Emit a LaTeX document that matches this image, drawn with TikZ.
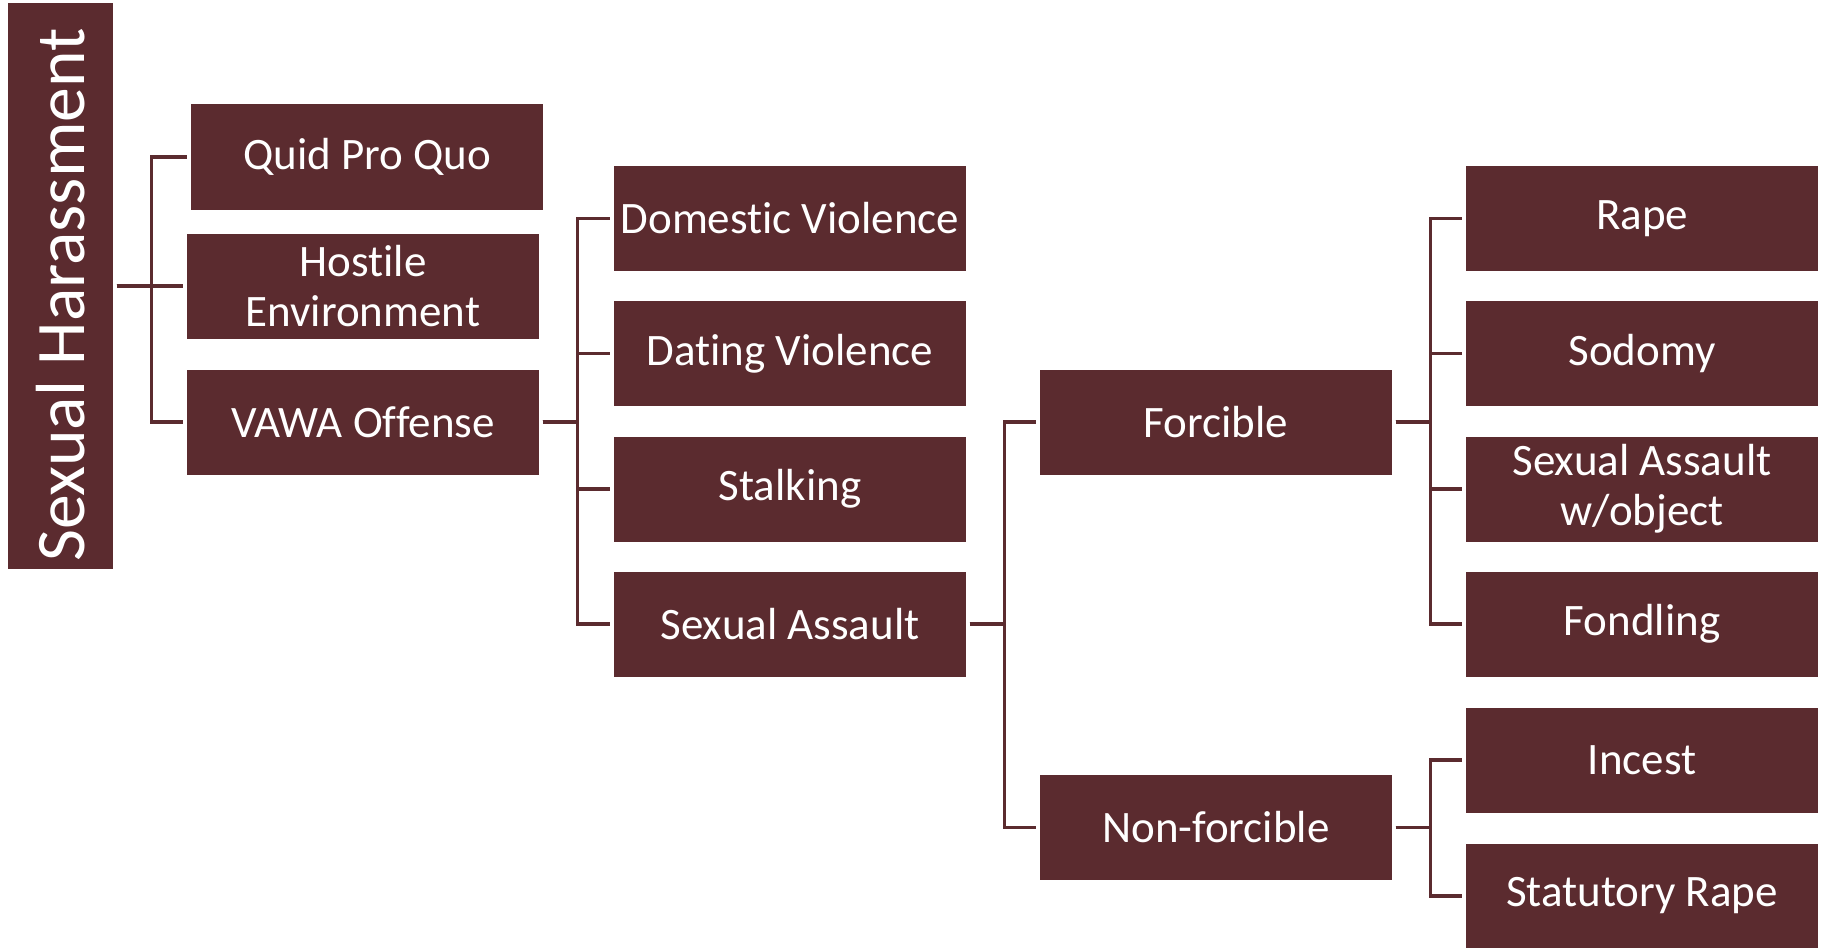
\documentclass[tikz,border=0pt]{standalone}
\usepackage{fontspec}
\setmainfont{Carlito}[Ligatures=NoCommon]
\definecolor{wine}{RGB}{91,43,47}

\tikzset{
	catbox/.style={fill=wine, text=white, minimum width=3.52cm, minimum height=1.05cm,
		inner sep=0pt, align=center, font=\fontsize{12.8}{14.2}\selectfont},
	branch/.style={draw=wine, line width=0.9pt, shorten <=0.03cm, shorten >=0.03cm,
		to path={-- ++(0.375,0) |- (\tikztotarget)}}
}

\begin{document}
\begin{tikzpicture}
	
	% Fix the page
	\useasboundingbox (0,0) rectangle (18.22,-9.47);
	
	% Define the root
	\node[catbox, minimum width=1.05cm, minimum height=5.66cm, font=\fontsize{19.8}{22}\selectfont]
		(harass) at (0.605,-2.86) {\rotatebox{90}{Sexual Harassment\hspace*{0.18cm}}};
	
	% First level
	\node[catbox] (quid) at (3.67,-1.57) {Quid Pro Quo};
	\node[catbox] (hostile) at (3.63,-2.86) {Hostile\\Environment};
	\node[catbox] (vawa) at (3.63,-4.22) {VAWA Offense};
	
	% VAWA offenses
	\node[catbox] (domestic) at (7.90,-2.185) {Domestic Violence};
	\node[catbox] (dating) at (7.90,-3.535) {Dating Violence};
	\node[catbox] (stalking) at (7.90,-4.89) {Stalking};
	\node[catbox] (assault) at (7.90,-6.24) {Sexual Assault};
	
	% Kinds of assault
	\node[catbox] (forcible) at (12.16,-4.22) {Forcible};
	\node[catbox] (nonforcible) at (12.16,-8.275) {Non-forcible};
	
	% Leaves
	\node[catbox] (rape) at (16.42,-2.185) {Rape};
	\node[catbox] (sodomy) at (16.42,-3.535) {Sodomy};
	\node[catbox] (object) at (16.42,-4.89) {Sexual Assault\\w/object};
	\node[catbox] (fondling) at (16.42,-6.24) {Fondling};
	\node[catbox] (incest) at (16.42,-7.60) {Incest};
	\node[catbox] (statutory) at (16.42,-8.96) {Statutory Rape};
	
	% Draw the connectors
	\draw[branch] (harass.east) to (quid.west);
	\draw[branch] (harass.east) to (hostile.west);
	\draw[branch] (harass.east) to (vawa.west);
	
	\draw[branch] (vawa.east) to (domestic.west);
	\draw[branch] (vawa.east) to (dating.west);
	\draw[branch] (vawa.east) to (stalking.west);
	\draw[branch] (vawa.east) to (assault.west);
	
	\draw[branch] (assault.east) to (forcible.west);
	\draw[branch] (assault.east) to (nonforcible.west);
	
	\draw[branch] (forcible.east) to (rape.west);
	\draw[branch] (forcible.east) to (sodomy.west);
	\draw[branch] (forcible.east) to (object.west);
	\draw[branch] (forcible.east) to (fondling.west);
	
	\draw[branch] (nonforcible.east) to (incest.west);
	\draw[branch] (nonforcible.east) to (statutory.west);
	
\end{tikzpicture}
\end{document}
